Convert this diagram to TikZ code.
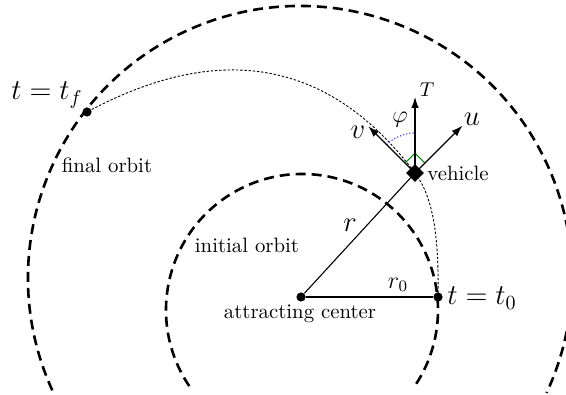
\documentclass[tikz,border=0pt]{standalone}
\usetikzlibrary{shapes.geometric,arrows.meta,calc}
\begin{document}
\begin{tikzpicture}[x=0.5pt,y=0.5pt,
  orbit/.style={line width=1.3pt,dash pattern=on 5pt off 3pt},
  traj/.style={line width=0.45pt,dash pattern=on 1.2pt off 0.9pt},
  vec/.style={line width=0.55pt,-{Latex[length=5.5pt,width=3.8pt]}},
  dot/.style={circle,fill=black,inner sep=0pt,minimum size=4.6pt},
  lbl/.style={inner sep=0pt},
  txt/.style={inner sep=0pt,font=\fontsize{10.4}{12}\selectfont}]
\useasboundingbox (0,0) rectangle (566,395);
% orbits
\draw[orbit] (300,117) ++(204.4:272) arc[start angle=204.4,end angle=-25,radius=272];
\draw[orbit] (302,85) ++(214:136) arc[start angle=214,end angle=-33,radius=136];
% points
\node[dot] (C) at (301,98) {};
\node[dot] (t0) at (438,98) {};
\node[dot] (tf) at (87,283) {};
\coordinate (V) at (415,222);
\coordinate (Ttip) at ($(V)+(0,76)$);
\coordinate (utip) at ($(V)+(45:67)$);
\coordinate (vtip) at ($(V)+(135:66)$);
% trajectory
\draw[traj] (t0.center) .. controls (439,160) and (433,198) .. (V) .. controls (310,362) and (184,335) .. (tf.center);
% lines
\draw[line width=0.55pt] (C) -- (V);
\draw[line width=0.55pt] (C) -- (t0);
% angle marks
\draw[blue!70,densely dotted,line width=0.6pt] ($(V)+(92:40)$) arc[start angle=92,end angle=135,radius=40];
\draw[green!55!black,line width=0.5pt] ($(V)+(45:14)$) -- ($(V)+(90:19.8)$) -- ($(V)+(135:14)$);
% vectors
\draw[vec] (V) -- (Ttip);
\draw[vec] (V) -- (utip);
\draw[vec] (V) -- (vtip);
\node[diamond,fill=black,inner sep=0pt,minimum size=9pt] (veh) at (V) {};
% labels
\node[lbl] (lT) at (427,305) {$T$};
\node[lbl] (lu) at (472,276) {\Large $u$};
\node[lbl] (lv) at (358,263) {\Large $v$};
\node[lbl] (lphi) at (400,275) {\large $\varphi$};
\node[lbl] (lr) at (350,170) {\Large $r$};
\node[lbl] (lr0) at (398,110) {\large $r_0$};
\node[lbl] (lt0) at (482,97) {\Large $t=t_0$};
\node[lbl] (ltf) at (47,300) {\Large $t=t_f$};
\node[txt] (lfinal) at (107,230) {final orbit};
\node[txt] (linit) at (247,150) {initial orbit};
\node[txt] (lcenter) at (300,81) {attracting center};
\node[txt,anchor=west] (lveh) at (427,222) {vehicle};
\end{tikzpicture}
\end{document}
